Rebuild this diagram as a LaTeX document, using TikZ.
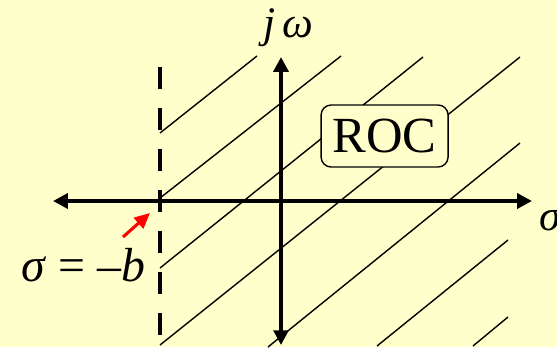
\documentclass[tikz,border=0pt]{standalone}
\usepackage{fontspec}
\setmainfont{Liberation Serif}
\usetikzlibrary{arrows.meta, positioning}

\definecolor{slidebg}{RGB}{255,255,204}

\begin{document}
\begin{tikzpicture}[
        axis/.style={
            {Triangle[length=10.5pt,width=10.5pt]}-{Triangle[length=10.5pt,width=10.5pt]},
            line width=2.6pt
        },
        hatch/.style={
            line width=1pt
        },
        boundary/.style={
            line width=3.2pt,
            dash pattern=on 0.55cm off 0.475cm
        },
        rocbox/.style={
            draw,
            fill=slidebg,
            line width=1pt,
            rounded corners=0.25cm,
            minimum width=3.175cm,
            minimum height=1.55cm,
            font=\fontsize{36}{40}\selectfont
        },
        mathtext/.style={
            inner sep=0pt,
            anchor=base
        },
        pointer/.style={
            -{Triangle[length=11pt,width=10pt]},
            line width=2.2pt,
            red
        }
    ]

    \fill[slidebg] (-7.025,-3.65) rectangle (6.9,5.025);
    \useasboundingbox (-7.025,-3.65) rectangle (6.9,5.025);

    % hatching of the region right of sigma = -b
    \draw[hatch] (-3.025,1.7) -- (-0.6,3.625)
                 (-3.025,0.075) -- (1.5,3.625)
                 (-3.025,-1.675) -- (3.55,3.6)
                 (-3.025,-3.6) -- (5.975,3.6)
                 (-0.325,-3.65) -- (5.975,1.45)
                 (2.4,-3.625) -- (5.675,-0.975)
                 (4.8,-3.625) -- (5.675,-2.9);

    \coordinate (bndtop) at (-3.025,3.35);
    \coordinate (bndbot) at (-3.025,-3.7);
    \draw[boundary] (bndtop) -- (bndbot);

    \coordinate (sleft) at (-5.7,0);
    \coordinate (sright) at (6.275,0);
    \coordinate (wtop) at (0,3.6);
    \coordinate (wbot) at (0,-3.6);
    \draw[axis] (sleft) -- (sright);
    \draw[axis] (wbot) -- (wtop);

    \node[rocbox] (roc) at (2.59,1.625) {ROC};

    \node[mathtext, font=\fontsize{31}{34}\selectfont] (jw) at (0.18,4.1)
    {\textit{j\,ω}};
    \node[mathtext, anchor=base west, font=\fontsize{31}{34}\selectfont] (sigma) at (6.45,-0.725)
    {\textit{σ}};
    \node[mathtext, font=\fontsize{34}{38}\selectfont] (sigmab) at (-4.94,-2.0)
    {\textit{σ} = –\textit{b}};

    \coordinate (ptail) at (-3.95,-0.9);
    \coordinate (ptip) at (-3.275,-0.3);
    \draw[pointer] (ptail) -- (ptip);

\end{tikzpicture}
\end{document}
